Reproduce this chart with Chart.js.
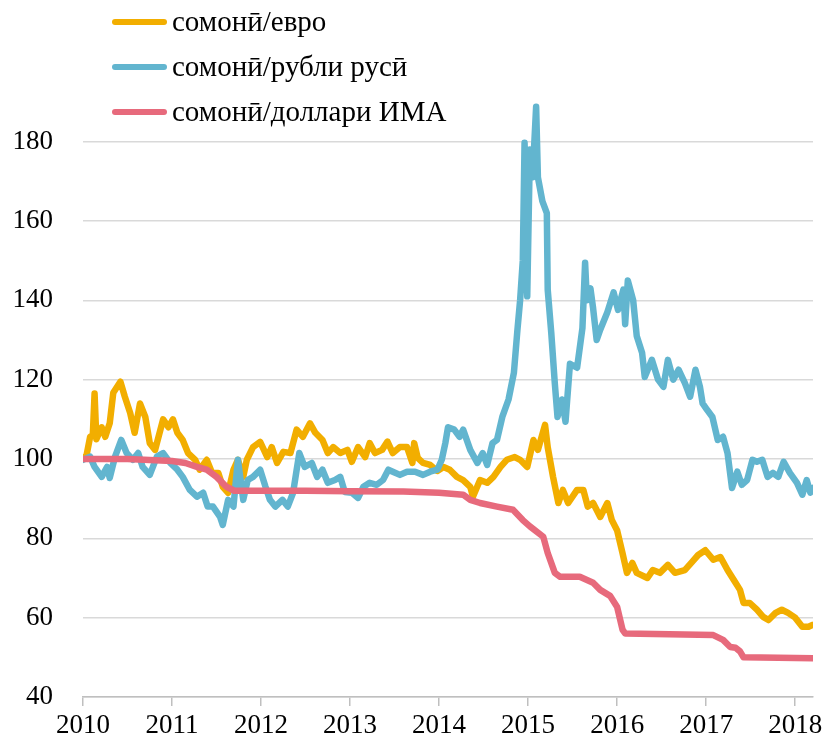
<!DOCTYPE html>
<html>
<head>
<meta charset="utf-8">
<script src="https://cdn.jsdelivr.net/npm/chart.js@4/dist/chart.umd.min.js"></script>
<style>
  body { margin: 0; background: #fff; }
  #wrap { position: relative; width: 825px; height: 738px; }
  #legend { position: absolute; left: 112px; top: -1px; font-family: 'Liberation Serif', serif; font-size: 29px; color: #000; }
  .row { display: flex; align-items: center; height: 45px; }
  .swatch { width: 55px; height: 6px; border-radius: 3px; margin-right: 5px; }
</style>
</head>
<body>
<div id="wrap">
  <canvas id="chart" width="825" height="738"></canvas>
  <div id="legend"></div>
</div>
<script>
// series names and colours
const seriesNames = ['сомонӣ/евро', 'сомонӣ/рубли русӣ', 'сомонӣ/доллари ИМА'];
const seriesColors = ['#f2ae00', '#62b5cf', '#e76a7c'];

// somoni / euro
const euroDates = [2010.00, 2010.04, 2010.08, 2010.11, 2010.13, 2010.15, 2010.21, 2010.25, 2010.30, 2010.34,
  2010.42, 2010.47, 2010.53, 2010.58, 2010.64, 2010.70, 2010.75, 2010.81, 2010.90, 2010.96,
  2011.01, 2011.06, 2011.12, 2011.18, 2011.26, 2011.31, 2011.39, 2011.45, 2011.52, 2011.57,
  2011.63, 2011.69, 2011.74, 2011.80, 2011.84, 2011.91, 2011.99, 2012.07, 2012.12, 2012.18,
  2012.25, 2012.33, 2012.40, 2012.47, 2012.55, 2012.61, 2012.69, 2012.75, 2012.81, 2012.89,
  2012.97, 2013.02, 2013.09, 2013.17, 2013.22, 2013.28, 2013.36, 2013.42, 2013.48, 2013.56,
  2013.64, 2013.70, 2013.72, 2013.76, 2013.82, 2013.90, 2013.98, 2014.05, 2014.12, 2014.20,
  2014.27, 2014.35, 2014.38, 2014.46, 2014.54, 2014.61, 2014.69, 2014.76, 2014.85, 2014.91,
  2014.99, 2015.06, 2015.11, 2015.19, 2015.22, 2015.28, 2015.34, 2015.39, 2015.45, 2015.55,
  2015.62, 2015.67, 2015.73, 2015.81, 2015.89, 2015.94, 2016.00, 2016.06, 2016.11, 2016.17,
  2016.22, 2016.34, 2016.40, 2016.48, 2016.57, 2016.65, 2016.76, 2016.84, 2016.91, 2016.99,
  2017.08, 2017.16, 2017.24, 2017.33, 2017.38, 2017.42, 2017.49, 2017.57, 2017.64, 2017.70,
  2017.78, 2017.85, 2017.92, 2018.00, 2018.08, 2018.15, 2018.20];
const euroValues = [100, 101, 105.6, 106, 116.5, 105, 108, 105.6, 109, 116.7,
  119.5, 115.7, 111.6, 106.6, 114, 110.6, 104, 102.3, 110, 108,
  110, 106.6, 104.8, 101.5, 99.8, 97.3, 99.8, 96.5, 96.5, 93,
  91.5, 97.3, 99.8, 95.5, 99.8, 103, 104.3, 100.5, 103, 99,
  101.8, 101.5, 107.4, 105.6, 109, 106.6, 104.8, 101.5, 103, 101.5,
  102.3, 99.3, 103, 100.5, 104, 101.5, 102.3, 104.4, 101.5, 103,
  103, 99, 104, 100.3, 99, 98.5, 97, 98, 97.3, 95.5,
  94.7, 93, 90.5, 94.7, 94, 95.5, 98, 99.8, 100.5, 99.8,
  98, 104.8, 102.3, 108.6, 103, 95.5, 88.9, 92.2, 88.9, 92.2,
  92.2, 88, 88.9, 85.4, 88.9, 84.6, 82, 76.3, 71.3, 73.8,
  71.3, 70, 72, 71.3, 73.3, 71.3, 72, 74, 75.8, 77,
  74.6, 75.3, 72, 68.8, 67, 63.7, 63.7, 62, 60.2, 59.4,
  61.2, 62, 61.2, 60, 57.7, 57.7, 58.2];

// somoni / russian rouble
const rubDates = [2010.00, 2010.08, 2010.13, 2010.21, 2010.27, 2010.30, 2010.36, 2010.43, 2010.49, 2010.56,
  2010.62, 2010.67, 2010.75, 2010.83, 2010.90, 2010.98, 2011.06, 2011.12, 2011.20, 2011.28,
  2011.35, 2011.40, 2011.46, 2011.54, 2011.57, 2011.63, 2011.69, 2011.74, 2011.80, 2011.85,
  2011.91, 2011.99, 2012.05, 2012.10, 2012.16, 2012.24, 2012.30, 2012.36, 2012.40, 2012.43,
  2012.49, 2012.57, 2012.63, 2012.69, 2012.75, 2012.83, 2012.89, 2012.94, 2013.02, 2013.09,
  2013.15, 2013.22, 2013.30, 2013.37, 2013.43, 2013.48, 2013.56, 2013.64, 2013.73, 2013.82,
  2013.90, 2013.98, 2014.03, 2014.07, 2014.10, 2014.17, 2014.23, 2014.27, 2014.35, 2014.43,
  2014.49, 2014.54, 2014.60, 2014.65, 2014.71, 2014.78, 2014.84, 2014.88, 2014.91, 2014.94,
  2014.96, 2014.99, 2015.02, 2015.05, 2015.09, 2015.11, 2015.16, 2015.21, 2015.22, 2015.26,
  2015.30, 2015.33, 2015.38, 2015.42, 2015.47, 2015.55, 2015.61, 2015.64, 2015.66, 2015.70,
  2015.73, 2015.77, 2015.81, 2015.89, 2015.96, 2016.01, 2016.07, 2016.09, 2016.12, 2016.18,
  2016.22, 2016.28, 2016.31, 2016.39, 2016.46, 2016.52, 2016.57, 2016.63, 2016.69, 2016.76,
  2016.82, 2016.88, 2016.93, 2016.96, 2017.01, 2017.07, 2017.13, 2017.19, 2017.24, 2017.29,
  2017.35, 2017.40, 2017.46, 2017.52, 2017.57, 2017.63, 2017.69, 2017.75, 2017.81, 2017.87,
  2017.94, 2018.02, 2018.08, 2018.13, 2018.17, 2018.20];
const rubValues = [99.8, 100.6, 98, 95.5, 98, 95.2, 100.6, 104.8, 101.5, 99.8,
  101.5, 98, 96, 100.6, 101.5, 99, 97.3, 95.5, 92.2, 90.5,
  91.5, 88, 88, 85.4, 83.4, 89.7, 88, 99.8, 89.7, 94.7,
  95.5, 97.3, 93, 89.7, 88, 89.7, 88, 91.5, 97.3, 101.5,
  98, 99, 95.5, 97.3, 94, 94.7, 95.5, 91.7, 91.5, 90.2,
  93, 94, 93.5, 94.7, 97.3, 96.8, 96, 96.8, 96.8, 96,
  96.8, 97.3, 99.8, 104, 108, 107.4, 105.6, 107.4, 102.3, 99,
  101.5, 98.5, 104, 104.8, 110.6, 115, 121.7, 132.6, 140, 150,
  179.7, 141, 178, 171, 188.8, 171, 165, 162, 142.7, 131.8,
  119, 110.6, 115, 109.4, 124, 123, 133, 149.5, 140, 143,
  138, 130, 132.6, 137, 142, 137.6, 142.7, 134, 145, 140,
  131, 126.8, 120.7, 125, 120, 118.2, 125, 120, 122.5, 119.2,
  115.7, 122.5, 118.2, 114, 112.4, 110.6, 104.8, 105.6, 101.5, 92.7,
  96.8, 93.5, 94.7, 99.8, 99.3, 99.8, 95.5, 96.5, 95.5, 99.3,
  96.5, 94, 91, 94.7, 91.5, 92.7];

// somoni / US dollar
const usdDates = [2010.00, 2010.50, 2011.00, 2011.15, 2011.28, 2011.39, 2011.50, 2011.61, 2011.70, 2012.50,
  2013.00, 2013.60, 2014.00, 2014.27, 2014.35, 2014.46, 2014.65, 2014.83, 2014.94, 2015.02,
  2015.17, 2015.22, 2015.30, 2015.36, 2015.58, 2015.73, 2015.81, 2015.92, 2016.00, 2016.06,
  2016.09, 2017.08, 2017.19, 2017.27, 2017.33, 2017.38, 2017.42, 2018.20];
const usdValues = [100, 100, 99.5, 99, 98, 97.3, 95.5, 93, 92, 92,
  91.9, 91.8, 91.5, 91, 89.7, 88.9, 88, 87.2, 84.6, 83,
  80.4, 76.3, 71.3, 70.3, 70.3, 68.8, 67, 65.5, 62.7, 57,
  56, 55.6, 54.4, 52.6, 52.4, 51.5, 50, 49.8];

const yTicks = [40, 60, 80, 100, 120, 140, 160, 180];
const xTicks = [2010, 2011, 2012, 2013, 2014, 2015, 2016, 2017, 2018];

function pts(xs, ys) {
  return xs.map((x, i) => ({ x: x, y: ys[i] }));
}

const allSeries = [pts(euroDates, euroValues), pts(rubDates, rubValues), pts(usdDates, usdValues)];

// legend (html, one entry per row)
const legend = document.getElementById('legend');
seriesNames.forEach((name, i) => {
  const row = document.createElement('div');
  row.className = 'row';
  row.innerHTML = '<span class="swatch" style="background:' + seriesColors[i] + '"></span><span>' + name + '</span>';
  legend.appendChild(row);
});

Chart.defaults.font.family = "'Liberation Serif', serif";
Chart.defaults.font.size = 27;
Chart.defaults.color = '#000';

const ctx = document.getElementById('chart').getContext('2d');
new Chart(ctx, {
  type: 'line',
  data: {
    datasets: allSeries.map((d, i) => ({
      label: seriesNames[i],
      data: d,
      borderColor: seriesColors[i],
      borderWidth: 6.5,
      borderJoinStyle: 'round',
      borderCapStyle: 'round',
      pointRadius: 0,
      tension: 0,
      order: 3 - i
    }))
  },
  options: {
    responsive: false,
    animation: false,
    layout: { padding: { left: 0, right: 12, top: 102, bottom: 0 } },
    plugins: { legend: { display: false }, tooltip: { enabled: false } },
    scales: {
      x: {
        type: 'linear',
        min: 2010,
        max: 2018.2,
        afterBuildTicks: s => { s.ticks = xTicks.map(v => ({ value: v })); },
        afterFit: s => { s.height = 41; s.paddingLeft = 0; s.paddingRight = 0; },
        ticks: { callback: v => String(v), padding: 6, maxRotation: 0, font: { lineHeight: 1 } },
        grid: { drawOnChartArea: false, tickLength: 9, color: '#bfbfbf', lineWidth: 1.5 },
        border: { color: '#bfbfbf', width: 1.5 }
      },
      y: {
        min: 40,
        max: 190,
        afterBuildTicks: s => { s.ticks = yTicks.map(v => ({ value: v })); },
        afterFit: s => { s.width = 83; s.paddingTop = 0; s.paddingBottom = 0; },
        ticks: { callback: v => String(v), padding: 30 },
        grid: { drawTicks: false, color: '#d9d9d9', lineWidth: 1.5 },
        border: { display: false }
      }
    }
  }
});
</script>
</body>
</html>
